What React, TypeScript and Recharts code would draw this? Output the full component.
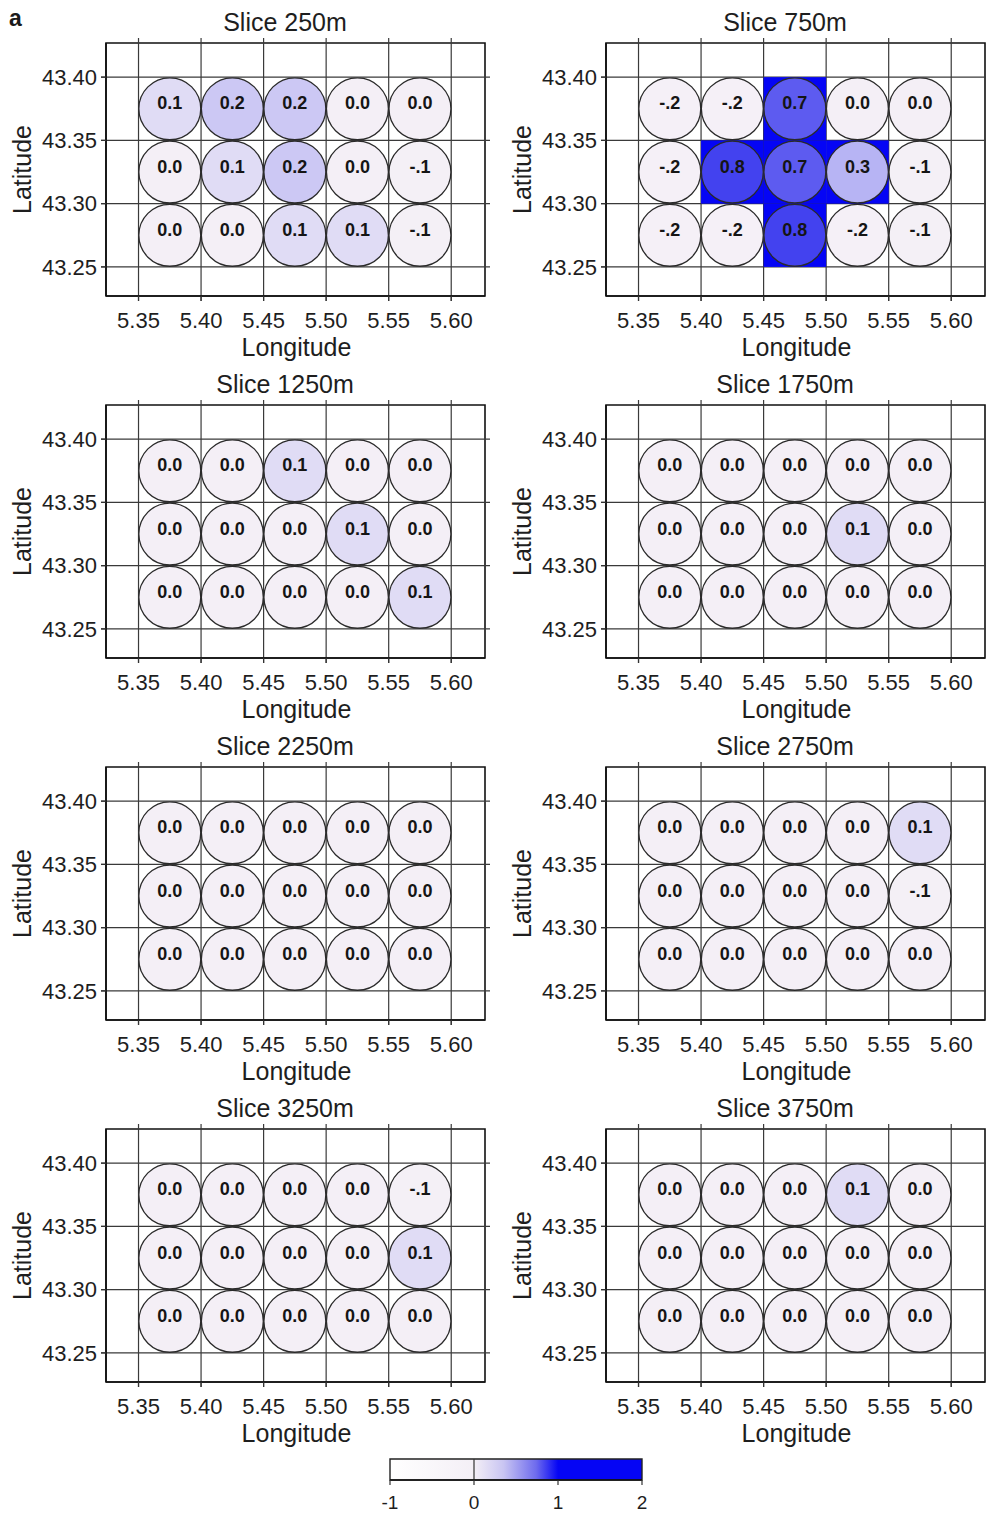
import React from 'react';
import {
  ScatterChart,
  Scatter,
  XAxis,
  YAxis,
  ReferenceLine,
  ReferenceArea,
  BarChart,
  Bar,
} from 'recharts';

// ---------- data ----------
const LON = [5.375, 5.425, 5.475, 5.525, 5.575];
const LAT = [43.375, 43.325, 43.275];
const LON_TICKS = [5.35, 5.4, 5.45, 5.5, 5.55, 5.6];
const LAT_TICKS = [43.25, 43.3, 43.35, 43.4];

// values row by row (north to south), columns west to east
const slice250 = [
  [0.1, 0.2, 0.2, 0.0, 0.0],
  [0.0, 0.1, 0.2, 0.0, -0.1],
  [0.0, 0.0, 0.1, 0.1, -0.1],
];
const slice750 = [
  [-0.2, -0.2, 0.7, 0.0, 0.0],
  [-0.2, 0.8, 0.7, 0.3, -0.1],
  [-0.2, -0.2, 0.8, -0.2, -0.1],
];
const slice1250 = [
  [0.0, 0.0, 0.1, 0.0, 0.0],
  [0.0, 0.0, 0.0, 0.1, 0.0],
  [0.0, 0.0, 0.0, 0.0, 0.1],
];
const slice1750 = [
  [0.0, 0.0, 0.0, 0.0, 0.0],
  [0.0, 0.0, 0.0, 0.1, 0.0],
  [0.0, 0.0, 0.0, 0.0, 0.0],
];
const slice2250 = [
  [0.0, 0.0, 0.0, 0.0, 0.0],
  [0.0, 0.0, 0.0, 0.0, 0.0],
  [0.0, 0.0, 0.0, 0.0, 0.0],
];
const slice2750 = [
  [0.0, 0.0, 0.0, 0.0, 0.1],
  [0.0, 0.0, 0.0, 0.0, -0.1],
  [0.0, 0.0, 0.0, 0.0, 0.0],
];
const slice3250 = [
  [0.0, 0.0, 0.0, 0.0, -0.1],
  [0.0, 0.0, 0.0, 0.0, 0.1],
  [0.0, 0.0, 0.0, 0.0, 0.0],
];
const slice3750 = [
  [0.0, 0.0, 0.0, 0.1, 0.0],
  [0.0, 0.0, 0.0, 0.0, 0.0],
  [0.0, 0.0, 0.0, 0.0, 0.0],
];

// blue (>1) cells behind the circles, as [lon, lat]
const squares750 = [
  [5.475, 43.375],
  [5.425, 43.325],
  [5.475, 43.325],
  [5.525, 43.325],
  [5.475, 43.275],
];

const SLICE_TITLES = [
  'Slice 250m',
  'Slice 750m',
  'Slice 1250m',
  'Slice 1750m',
  'Slice 2250m',
  'Slice 2750m',
  'Slice 3250m',
  'Slice 3750m',
];
const SLICE_VALUES = [
  slice250,
  slice750,
  slice1250,
  slice1750,
  slice2250,
  slice2750,
  slice3250,
  slice3750,
];
const SLICE_SQUARES: number[][][] = [[], squares750, [], [], [], [], [], []];

const CB_TICKS = [-1, 0, 1, 2];
const CB_DATA = [{ name: 'scale', range: [-1, 2] }];

// ---------- layout ----------
const FONT = '"Liberation Sans", Arial, Helvetica, sans-serif';
const CHART_W = 500;
const CHART_H = 362;
const M_TOP = 43;
const M_RIGHT = 15;
const Y_W = 106;
const X_H = 66;
const PLOT_W = CHART_W - Y_W - M_RIGHT;
const PLOT_H = CHART_H - M_TOP - X_H;
const X_DOMAIN: [number, number] = [5.324, 5.627];
const Y_DOMAIN: [number, number] = [43.227, 43.427];
const CELL = 0.05;
const PX_X = PLOT_W / (X_DOMAIN[1] - X_DOMAIN[0]);
const PX_Y = PLOT_H / (Y_DOMAIN[1] - Y_DOMAIN[0]);
const R = (CELL / 2) * PX_X - 0.3;
const TICK_PX = 5;
const EXT_X = TICK_PX / PX_X;
const EXT_Y = TICK_PX / PX_Y;

const BASE = [244, 239, 246];
const WHITE = [255, 255, 255];
const BLUE_END = [0, 0, 236];

function mix(a: number[], b: number[], t: number) {
  const c = a.map((av, i) => Math.round(av * (1 - t) + b[i] * t));
  return `rgb(${c[0]},${c[1]},${c[2]})`;
}

function fillFor(v: number) {
  if (v <= 0) {
    const t = Math.max(0, 1 + v);
    return mix(WHITE, BASE, 0.6 + 0.4 * t);
  }
  const t = Math.min(1, v);
  const k = Math.pow(1 - t, 0.8);
  return mix(BLUE_END, BASE, k);
}

function fmt(v: number) {
  if (v < 0) return '-.' + Math.round(-v * 10);
  return v.toFixed(1);
}

const CircleShape = (props: any) => {
  const { cx, cy, payload } = props;
  if (cx == null || cy == null) return <g />;
  return (
    <g>
      <circle cx={cx} cy={cy} r={R} fill={fillFor(payload.v)} stroke="#2a2a2a" strokeWidth={1.3} />
      <text
        x={cx}
        y={cy + 0.5}
        textAnchor="middle"
        fontSize={18}
        fontWeight="bold"
        fill="#151515"
        fontFamily={FONT}
      >
        {fmt(payload.v)}
      </text>
    </g>
  );
};

const SquareShape = (props: any) => {
  const { cx, cy } = props;
  if (cx == null || cy == null) return <g />;
  const w = CELL * PX_X;
  const h = CELL * PX_Y;
  return <rect x={cx - w / 2} y={cy - h / 2} width={w} height={h} fill="#0505f5" />;
};

const AXIS_LINE = { stroke: '#111', strokeWidth: 1.6 };
const TICK_LINE = { stroke: '#333', strokeWidth: 1.2 };
const GRID = '#3a3a3a';

function Panel({ idx }: { idx: number }) {
  const col = idx % 2;
  const row = Math.floor(idx / 2);
  const values = SLICE_VALUES[idx];
  const points: { lon: number; lat: number; v: number }[] = [];
  LAT.forEach((lat, r) => {
    LON.forEach((lon, c) => {
      points.push({ lon, lat, v: values[r][c] });
    });
  });
  const sq = SLICE_SQUARES[idx].map(([lon, lat]) => ({ lon, lat }));
  const title = SLICE_TITLES[idx];

  return (
    <div style={{ position: 'absolute', left: col * 500, top: row * 362 }}>
      <ScatterChart
        width={CHART_W}
        height={CHART_H}
        margin={{ top: M_TOP, right: M_RIGHT, bottom: 0, left: 0 }}
      >
        <XAxis
          type="number"
          dataKey="lon"
          domain={X_DOMAIN}
          ticks={LON_TICKS}
          allowDataOverflow
          height={X_H}
          tickFormatter={(t: number) => t.toFixed(2)}
          tick={{ fontSize: 22, fill: '#1e1e1e' }}
          tickSize={TICK_PX}
          tickMargin={11}
          axisLine={AXIS_LINE}
          tickLine={TICK_LINE}
          label={{
            content: () => (
              <g>
                <text
                  x={Y_W + PLOT_W / 2 + 1}
                  y={356}
                  textAnchor="middle"
                  fontSize={25}
                  fill="#1e1e1e"
                  fontFamily={FONT}
                >
                  Longitude
                </text>
                <text
                  x={285}
                  y={31}
                  textAnchor="middle"
                  fontSize={25}
                  fill="#1e1e1e"
                  fontFamily={FONT}
                >
                  {title}
                </text>
              </g>
            ),
          }}
        />
        <YAxis
          type="number"
          dataKey="lat"
          domain={Y_DOMAIN}
          ticks={LAT_TICKS}
          allowDataOverflow
          width={Y_W}
          tickFormatter={(t: number) => t.toFixed(2)}
          tick={{ fontSize: 22, fill: '#1e1e1e' }}
          tickSize={TICK_PX}
          tickMargin={4}
          axisLine={AXIS_LINE}
          tickLine={TICK_LINE}
          label={{
            content: () => {
              const cy = M_TOP + PLOT_H / 2;
              return (
                <text
                  x={31}
                  y={cy}
                  transform={`rotate(-90, 31, ${cy})`}
                  textAnchor="middle"
                  fontSize={25}
                  fill="#1e1e1e"
                  fontFamily={FONT}
                >
                  Latitude
                </text>
              );
            },
          }}
        />
        {sq.length > 0 && (
          <Scatter data={sq} shape={SquareShape} isAnimationActive={false} />
        )}
        {LON_TICKS.map((t) => (
          <ReferenceLine
            key={'x' + t}
            segment={[
              { x: t, y: Y_DOMAIN[0] - EXT_Y },
              { x: t, y: Y_DOMAIN[1] + EXT_Y },
            ]}
            ifOverflow="visible"
            stroke={GRID}
            strokeWidth={1.2}
          />
        ))}
        {LAT_TICKS.map((t) => (
          <ReferenceLine
            key={'y' + t}
            segment={[
              { x: X_DOMAIN[0] - EXT_X, y: t },
              { x: X_DOMAIN[1] + EXT_X, y: t },
            ]}
            ifOverflow="visible"
            stroke={GRID}
            strokeWidth={1.2}
          />
        ))}
        <Scatter data={points} shape={CircleShape} isAnimationActive={false} />
        <ReferenceArea
          x1={X_DOMAIN[0]}
          x2={X_DOMAIN[1]}
          y1={Y_DOMAIN[0]}
          y2={Y_DOMAIN[1]}
          ifOverflow="visible"
          fill="none"
          fillOpacity={0}
          stroke="#111"
          strokeWidth={1.6}
        />
      </ScatterChart>
    </div>
  );
}

function ColorBar() {
  return (
    <div style={{ position: 'absolute', left: 0, top: 1440 }}>
      <BarChart
        width={986}
        height={77}
        layout="vertical"
        data={CB_DATA}
        barCategoryGap={0}
        margin={{ top: 19, left: 390, right: 344, bottom: 0 }}
      >
        <defs>
          <linearGradient id="cbGrad" x1="0" y1="0" x2="1" y2="0">
            <stop offset="0" stopColor="#ffffff" />
            <stop offset="0.333" stopColor="#f4eff6" />
            <stop offset="0.45" stopColor="#c9c5f2" />
            <stop offset="0.58" stopColor="#6e6bee" />
            <stop offset="0.667" stopColor="#0505f5" />
            <stop offset="1" stopColor="#0505f5" />
          </linearGradient>
        </defs>
        <XAxis
          type="number"
          domain={[-1, 2]}
          ticks={CB_TICKS}
          height={37}
          tick={{ fontSize: 19, fill: '#1e1e1e' }}
          tickFormatter={(t: number) => String(t)}
          tickSize={5}
          tickMargin={11}
          axisLine={{ stroke: '#111', strokeWidth: 1.4 }}
          tickLine={TICK_LINE}
        />
        <YAxis type="category" dataKey="name" hide width={0} />
        <Bar
          dataKey="range"
          fill="url(#cbGrad)"
          stroke="#222"
          strokeWidth={1.4}
          isAnimationActive={false}
        />
        <ReferenceLine x={0} stroke="#333" strokeWidth={1.2} />
      </BarChart>
    </div>
  );
}

export default function App() {
  return (
    <div
      style={{
        position: 'absolute',
        left: 0,
        top: 0,
        width: 986,
        height: 1517,
        background: '#ffffff',
        fontFamily: FONT,
      }}
    >
      <div
        style={{
          position: 'absolute',
          left: 9,
          top: 4,
          fontSize: 23,
          fontWeight: 'bold',
          color: '#1a1a1a',
          lineHeight: '28px',
        }}
      >
        a
      </div>
      {SLICE_TITLES.map((_, i) => (
        <Panel key={i} idx={i} />
      ))}
      <ColorBar />
    </div>
  );
}
